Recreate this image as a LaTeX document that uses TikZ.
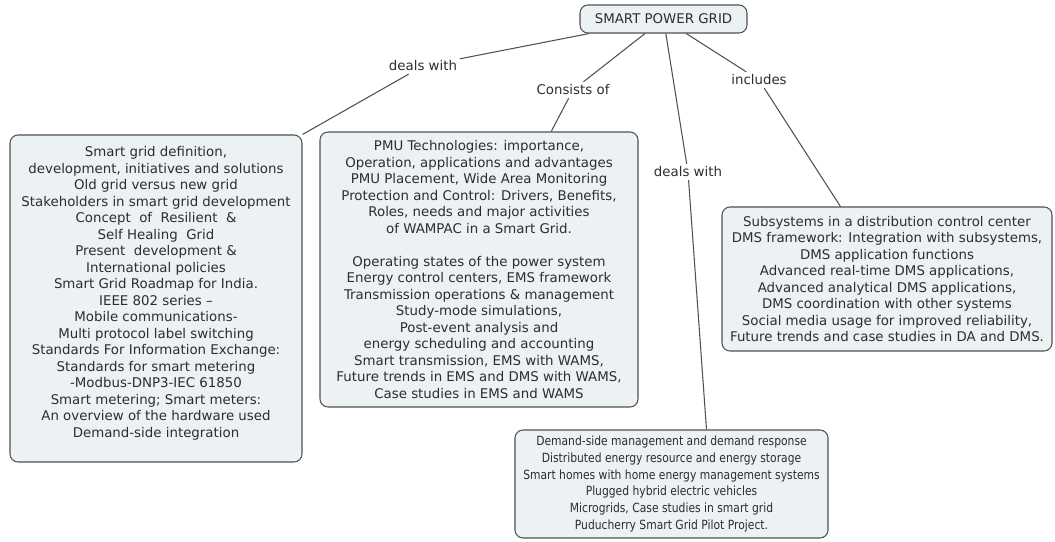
\documentclass[tikz,border=0pt]{standalone}
\usepackage{fontspec}
\setmainfont{DejaVu Sans}
\newfontfamily\narrowsans[FakeStretch=0.85]{DejaVu Sans}
\definecolor{boxfill}{RGB}{236,241,244}
\definecolor{boxline}{RGB}{80,80,80}
\definecolor{inkgray}{RGB}{45,45,45}
\begin{document}
\begin{tikzpicture}[
    box/.style={draw=boxline, fill=boxfill, rounded corners=0.16cm, line width=0.6pt, align=center, inner sep=0pt, text=inkgray, font=\fontsize{7.6}{9.4}\selectfont},
    lbl/.style={inner sep=1.5pt, text=inkgray, font=\fontsize{7.6}{9.4}\selectfont},
    link/.style={draw=boxline, line width=0.6pt}
]
    \useasboundingbox (0,0) rectangle (21.1,10.82);

    % 1. Root node
    \node[box, minimum width=3.34cm, minimum height=0.56cm] (root) at (13.27, 10.44) {SMART POWER GRID};

    % 2. Topic boxes
    \node[box, minimum width=5.84cm, minimum height=6.54cm] (basics) at (3.12, 4.85) {Smart grid definition,\\development, initiatives and solutions\\Old grid versus new grid\\Stakeholders in smart grid development\\Concept~ of~ Resilient~ \&\\Self Healing~ Grid\\Present~ development \&\\International policies\\Smart Grid Roadmap for India.\\IEEE 802 series --\\Mobile communications-\\Multi protocol label switching\\Standards For Information Exchange:\\Standards for smart metering\\-Modbus-DNP3-IEC 61850\\Smart metering; Smart meters:\\An overview of the hardware used\\Demand-side integration\\[-2pt]};
    \node[box, minimum width=6.36cm, minimum height=5.5cm] (wams) at (9.58, 5.43) {PMU Technologies: importance,\\Operation, applications and advantages\\PMU Placement, Wide Area Monitoring\\Protection and Control: Drivers, Benefits,\\Roles, needs and major activities\\of WAMPAC in a Smart Grid.\\[9.4pt]Operating states of the power system\\Energy control centers, EMS framework\\Transmission operations \& management\\Study-mode simulations,\\Post-event analysis and\\energy scheduling and accounting\\Smart transmission, EMS with WAMS,\\Future trends in EMS and DMS with WAMS,\\Case studies in EMS and WAMS};
    \node[box, minimum width=6.26cm, minimum height=2.16cm, font=\narrowsans\fontsize{7.2}{9.5}\selectfont] (demand) at (13.43, 1.14) {Demand-side management and demand response\\Distributed energy resource and energy storage\\Smart homes with home energy management systems\\Plugged hybrid electric vehicles\\Microgrids, Case studies in smart grid\\Puducherry Smart Grid Pilot Project.};
    \node[box, minimum width=6.6cm, minimum height=2.88cm] (dms) at (17.74, 5.24) {Subsystems in a distribution control center\\DMS framework: Integration with subsystems,\\DMS application functions\\Advanced real-time DMS applications,\\Advanced analytical DMS applications,\\DMS coordination with other systems\\Social media usage for improved reliability,\\Future trends and case studies in DA and DMS.};

    % 3. Link labels
    \node[lbl] (deals1) at (8.46, 9.50) {deals with};
    \node[lbl] (consists) at (11.46, 9.02) {Consists of};
    \node[lbl] (deals2) at (13.76, 7.38) {deals with};
    \node[lbl] (includes) at (15.18, 9.22) {includes};

    % Links
    \draw[link] (root) -- (deals1) -- (basics.north east);
    \draw[link] (root) -- (consists) -- (wams);
    \draw[link] (root) -- (deals2) -- ([xshift=0.7cm]demand.north);
    \draw[link] (root) -- (includes) -- (dms);

\end{tikzpicture}
\end{document}
